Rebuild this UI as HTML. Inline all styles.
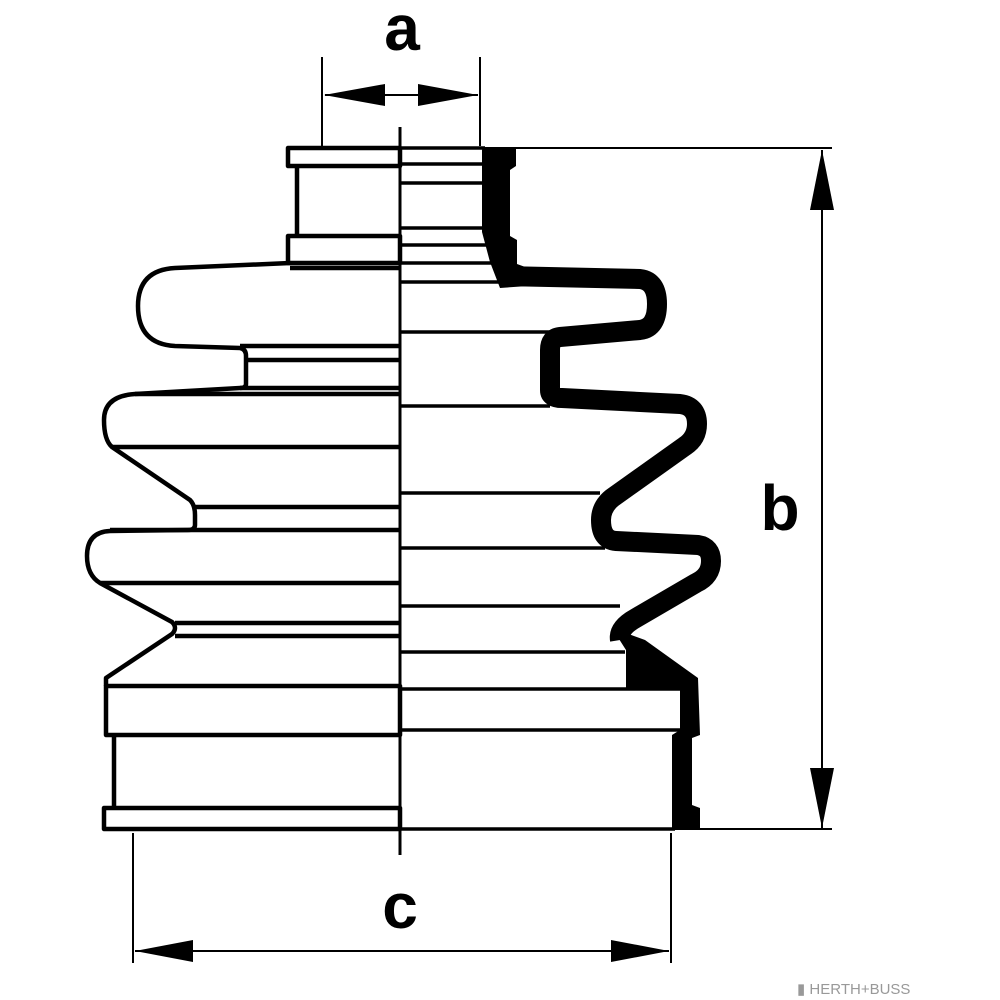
<!DOCTYPE html>
<html><head><meta charset="utf-8"><style>
html,body{margin:0;padding:0;background:#fff;}
svg{display:block;}
text{font-family:"Liberation Sans",sans-serif;font-weight:bold;}
</style></head><body>
<svg width="1000" height="1000" viewBox="0 0 1000 1000" xmlns="http://www.w3.org/2000/svg">
<g fill="none" stroke="#000" stroke-width="4.5" stroke-linejoin="round">
<rect x="288" y="148" width="112" height="18"/>
<line x1="297" y1="166" x2="297" y2="236"/>
<rect x="288" y="236" width="112" height="27"/>
<path d="M290,263 L175,268 Q138,270 138,306 Q138,344 175,346 L240,348 Q246,349 246,356 L246,384 Q246,388 240,388 L135,394 Q104,396 104,420 Q104,440 112,447 L190,500 Q195,505 195,515 L195,525 Q195,530 188,530 L110,531 Q87,532 87,556 Q87,575 100,583 L172,622 Q178,628 172,634 L106,678 L106,686"/>
<rect x="106" y="686" width="294" height="49"/>
<line x1="114" y1="735" x2="114" y2="808"/>
<rect x="104" y="808" width="296" height="21"/>
<line x1="246" y1="360" x2="400" y2="360"/>
<line x1="290" y1="268" x2="400" y2="268"/>
<line x1="240" y1="346" x2="400" y2="346"/>
<line x1="240" y1="388" x2="400" y2="388"/>
<line x1="135" y1="394" x2="400" y2="394"/>
<line x1="112" y1="447" x2="400" y2="447"/>
<line x1="193" y1="507" x2="400" y2="507"/>
<line x1="110" y1="530" x2="400" y2="530"/>
<line x1="100" y1="583" x2="400" y2="583"/>
<line x1="175" y1="623" x2="400" y2="623"/>
<line x1="175" y1="636" x2="400" y2="636"/>
</g>
<g stroke="#000" stroke-width="3.5">
<line x1="400" y1="164" x2="490" y2="164"/>
<line x1="400" y1="183" x2="490" y2="183"/>
<line x1="400" y1="228" x2="490" y2="228"/>
<line x1="400" y1="245" x2="492" y2="245"/>
<line x1="400" y1="263" x2="495" y2="263"/>
<line x1="400" y1="282" x2="500" y2="282"/>
<line x1="400" y1="332" x2="550" y2="332"/>
<line x1="400" y1="406" x2="550" y2="406"/>
<line x1="400" y1="493" x2="600" y2="493"/>
<line x1="400" y1="548" x2="605" y2="548"/>
<line x1="400" y1="606" x2="620" y2="606"/>
<line x1="400" y1="652" x2="625" y2="652"/>
<line x1="400" y1="689" x2="680" y2="689"/>
<line x1="400" y1="730" x2="680" y2="730"/>
<line x1="400" y1="829" x2="675" y2="829"/>
<line x1="400" y1="148" x2="485" y2="148"/>
</g>
<path d="M505,276 L640,279 Q657,281 657,304 Q657,328 640,330 L560,337 Q550,338 550,350 L550,390 Q550,398 562,398 L680,404 Q697,406 697,424 Q697,438 685,446 L612,498 Q601,507 601,520 Q601,540 616,541 L698,545 Q711,547 711,561 Q711,576 696,583 L636,618 Q618,628 620,640" fill="none" stroke="#000" stroke-width="20" stroke-linejoin="round"/>
<polygon points="484,147 516,147 516,166 510,170 510,236 517,240 517,264 528,268 528,286 500,288 490,262 482,232 482,150" fill="#000"/>
<polygon points="612,628 645,640 698,678 700,735 692,738 692,805 700,808 700,830 672,830 672,735 680,730 680,690 626,690 626,650" fill="#000"/>
<line x1="400" y1="127" x2="400" y2="855" stroke="#000" stroke-width="3"/>
<g stroke="#000" stroke-width="2">
<line x1="322" y1="57" x2="322" y2="146"/>
<line x1="480" y1="57" x2="480" y2="146"/>
<line x1="325" y1="95" x2="478" y2="95"/>
<line x1="505" y1="148" x2="832" y2="148"/>
<line x1="700" y1="829" x2="832" y2="829"/>
<line x1="822" y1="150" x2="822" y2="828"/>
<line x1="133" y1="833" x2="133" y2="963"/>
<line x1="671" y1="833" x2="671" y2="963"/>
<line x1="135" y1="951" x2="669" y2="951"/>
</g>
<g fill="#000">
<polygon points="324,95 385,84 385,106"/>
<polygon points="478,95 418,84 418,106"/>
<polygon points="822,150 810,210 834,210"/>
<polygon points="822,828 810,768 834,768"/>
<polygon points="135,951 193,940 193,962"/>
<polygon points="669,951 611,940 611,962"/>
</g>
<text x="402" y="50" font-size="64" text-anchor="middle">a</text>
<text x="780" y="530" font-size="64" text-anchor="middle">b</text>
<text x="400" y="928" font-size="64" text-anchor="middle">c</text>
<text x="797" y="994" font-size="15" fill="#999" style="font-weight:normal">▮ HERTH+BUSS</text>
</svg>
</body></html>
